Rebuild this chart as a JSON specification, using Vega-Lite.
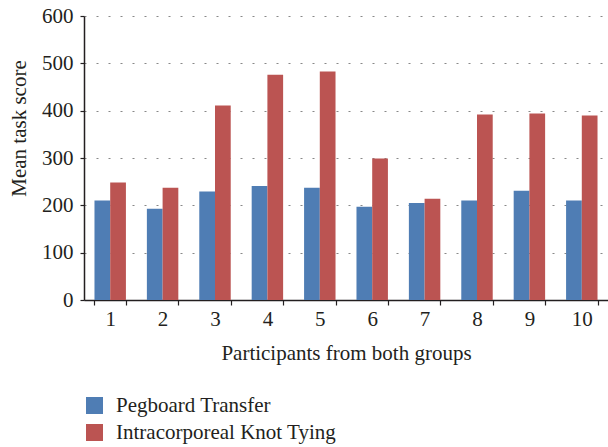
{
  "$schema": "https://vega.github.io/schema/vega-lite/v6.json",
  "autosize": "none",
  "width": 524,
  "height": 284,
  "padding": {"left": 84, "top": 16, "right": 0, "bottom": 147},
  "background": "white",
  "data": {
    "values": [
      {"participant": "1", "task": "Pegboard Transfer", "score": 210},
      {"participant": "1", "task": "Intracorporeal Knot Tying", "score": 248},
      {"participant": "2", "task": "Pegboard Transfer", "score": 193},
      {"participant": "2", "task": "Intracorporeal Knot Tying", "score": 237},
      {"participant": "3", "task": "Pegboard Transfer", "score": 229},
      {"participant": "3", "task": "Intracorporeal Knot Tying", "score": 411},
      {"participant": "4", "task": "Pegboard Transfer", "score": 241},
      {"participant": "4", "task": "Intracorporeal Knot Tying", "score": 476},
      {"participant": "5", "task": "Pegboard Transfer", "score": 237},
      {"participant": "5", "task": "Intracorporeal Knot Tying", "score": 483},
      {"participant": "6", "task": "Pegboard Transfer", "score": 197},
      {"participant": "6", "task": "Intracorporeal Knot Tying", "score": 299},
      {"participant": "7", "task": "Pegboard Transfer", "score": 205},
      {"participant": "7", "task": "Intracorporeal Knot Tying", "score": 214},
      {"participant": "8", "task": "Pegboard Transfer", "score": 210},
      {"participant": "8", "task": "Intracorporeal Knot Tying", "score": 392},
      {"participant": "9", "task": "Pegboard Transfer", "score": 231},
      {"participant": "9", "task": "Intracorporeal Knot Tying", "score": 394},
      {"participant": "10", "task": "Pegboard Transfer", "score": 210},
      {"participant": "10", "task": "Intracorporeal Knot Tying", "score": 390}
    ]
  },
  "config": {
    "view": {"stroke": null},
    "font": "Liberation Serif",
    "axis": {
      "labelFont": "Liberation Serif",
      "titleFont": "Liberation Serif",
      "labelFontSize": 21,
      "titleFontSize": 21,
      "labelColor": "#231f20",
      "titleColor": "#231f20",
      "titleFontWeight": "normal",
      "domainColor": "#231f20",
      "tickColor": "#231f20",
      "domainWidth": 1.5,
      "tickWidth": 1.2
    },
    "legend": {
      "labelFont": "Liberation Serif",
      "labelFontSize": 21,
      "labelColor": "#231f20",
      "labelLimit": 0
    }
  },
  "mark": {"type": "bar"},
  "encoding": {
    "x": {
      "field": "participant",
      "type": "nominal",
      "sort": ["1","2","3","4","5","6","7","8","9","10"],
      "scale": {"paddingInner": 0.4, "paddingOuter": 0.2},
      "axis": {
        "title": "Participants from both groups",
        "labelAngle": 0,
        "tickBand": "extent",
        "tickSize": 5,
        "labelPadding": 3,
        "titlePadding": 13
      }
    },
    "xOffset": {
      "field": "task",
      "type": "nominal",
      "sort": ["Pegboard Transfer", "Intracorporeal Knot Tying"]
    },
    "y": {
      "field": "score",
      "type": "quantitative",
      "scale": {"domain": [0, 600]},
      "axis": {
        "title": "Mean task score",
        "values": [0, 100, 200, 300, 400, 500, 600],
        "tickSize": 4,
        "labelPadding": 7,
        "titlePadding": 12,
        "titleY": 112,
        "grid": true,
        "gridColor": "#888888",
        "gridDash": [2, 10],
        "gridWidth": 1.2
      }
    },
    "color": {
      "field": "task",
      "type": "nominal",
      "sort": ["Pegboard Transfer", "Intracorporeal Knot Tying"],
      "scale": {
        "domain": ["Pegboard Transfer", "Intracorporeal Knot Tying"],
        "range": ["#4f7db4", "#bb5452"]
      },
      "legend": {
        "title": null,
        "orient": "none",
        "legendX": 0,
        "legendY": 379,
        "symbolType": "square",
        "symbolSize": 289,
        "symbolStrokeWidth": 0,
        "rowPadding": 5,
        "labelOffset": 11
      }
    }
  }
}
